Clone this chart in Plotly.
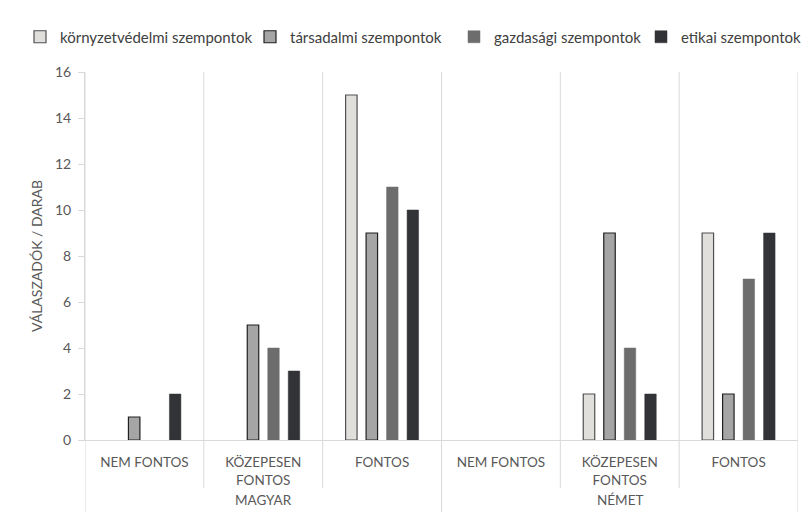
import plotly.graph_objects as go

outer = ["MAGYAR", "NÉMET"]
inner = ["NEM FONTOS", "KÖZEPESEN<br>FONTOS", "FONTOS"]
series_names = ["környzetvédelmi szempontok", "társadalmi szempontok",
                "gazdasági szempontok", "etikai szempontok"]
# values per series, in order: MAGYAR (nem, közepesen, fontos), NÉMET (nem, közepesen, fontos)
kornyezet = [0, 0, 15, 0, 2, 9]
tarsadalmi = [1, 5, 9, 0, 9, 2]
gazdasagi = [0, 4, 11, 0, 4, 7]
etikai = [2, 3, 10, 0, 2, 9]
y_ticks = [0, 2, 4, 6, 8, 10, 12, 14, 16]

fills = ["#e0dfdc", "#a5a5a5", "#6d6d6d", "#323337"]
borders = ["#505050", "#202020", "#6d6d6d", "#323337"]
bw = [1.2, 1.2, 0.5, 0.5]

n_in = len(inner)
ticktext = [i for _ in outer for i in inner]
xs = list(range(len(ticktext)))

# the page body has an 8px margin: figure origin sits at (8, 8) of the window
OFF = 8
W, H = 811 - OFF, 518 - OFF
ML, MR, MT, MB = 85 - OFF, 13, 72 - OFF, 78
PW, PH = W - ML - MR, H - MT - MB

# legend text start pixels in the reference window
leg_text_px = [60, 290, 494, 681]
TEXT_OFF = 40  # plotly offset from legend box left to text start

fig = go.Figure()
for k, (name, vals, fc, lc, w) in enumerate(zip(series_names, [kornyezet, tarsadalmi, gazdasagi, etikai], fills, borders, bw)):
    lg = "legend" if k == 0 else f"legend{k+1}"
    fig.add_trace(go.Bar(
        x=xs, y=[v if v != 0 else None for v in vals], name=name, legend=lg,
        marker=dict(color=fc, line=dict(color=lc, width=w)),
    ))

grey = "#d9d9d9"
txt = "#595959"

legends = {}
for k in range(4):
    key = "legend" if k == 0 else f"legend{k+1}"
    legends[key] = dict(
        x=(leg_text_px[k] - OFF - TEXT_OFF - ML) / PW, xanchor="left",
        y=1 - (37 - OFF) / H, yref="container", yanchor="middle",
        font=dict(size=15, color="#404040"), bgcolor="rgba(0,0,0,0)",
        itemwidth=30,
    )

shapes = []
# vertical separators between inner categories
for b in range(len(xs) + 1):
    xb = b - 0.5
    is_outer = (b % n_in == 0)
    y0 = -(72 if is_outer else 48) / PH
    shapes.append(dict(type="line", xref="x", yref="paper", x0=xb, x1=xb, y0=y0, y1=1,
                       line=dict(color=grey, width=1), layer="below"))

annotations = []
for j, o in enumerate(outer):
    annotations.append(dict(text=o, x=j * n_in + (n_in - 1) / 2, xref="x", y=-60 / PH, yref="paper",
                            showarrow=False, yanchor="middle", font=dict(size=13.5, color=txt)))

fig.update_layout(
    width=W, height=H,
    margin=dict(l=ML, r=MR, t=MT, b=MB, autoexpand=False),
    paper_bgcolor="white", plot_bgcolor="white",
    barmode="group", bargap=0.31, bargroupgap=0.44,
    font=dict(family="Lato", size=13, color=txt),
    shapes=shapes, annotations=annotations,
    showlegend=True,
    **legends,
)
fig.update_xaxes(
    range=[-0.5, len(xs) - 0.5], tickvals=xs, ticktext=ticktext,
    showgrid=False, zeroline=False, ticks="", ticklabelstandoff=10,
    showline=True, linecolor=grey, linewidth=1,
    tickfont=dict(size=13.5, color=txt), automargin=False,
)
fig.update_yaxes(
    range=[0, 16], tickvals=y_ticks, showgrid=False, zeroline=False,
    showline=True, linecolor=grey, ticks="outside", ticklen=6, tickcolor=grey,
    ticklabelstandoff=4, automargin=False,
    tickfont=dict(size=14, color=txt),
    title=dict(text="VÁLASZADÓK / DARAB", font=dict(size=14, color=txt), standoff=9),
)
fig.write_html("out.html")
